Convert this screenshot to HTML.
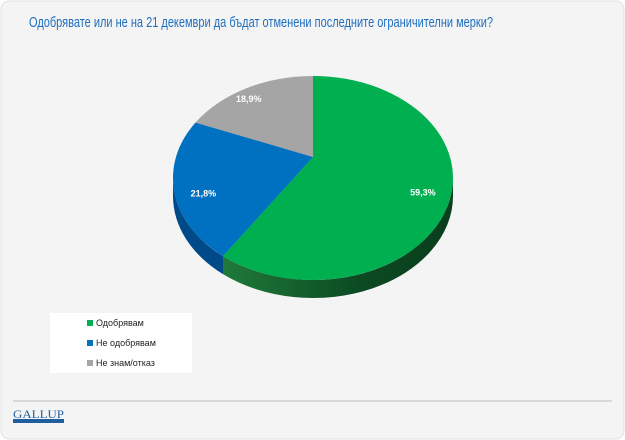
<!DOCTYPE html>
<html><head><meta charset="utf-8"><style>
body{margin:0;width:625px;height:440px;background:#fff;overflow:hidden}
svg{display:block;font-family:"Liberation Sans",sans-serif}
</style></head><body>
<svg width="625" height="440">
<defs>
<linearGradient id="gside" x1="0" x2="1"><stop offset="0" stop-color="#1f7a3a"/><stop offset="0.6" stop-color="#0b4a22"/><stop offset="1" stop-color="#0a3d1c"/></linearGradient>
<radialGradient id="shadow" cx="0.5" cy="0.5" r="0.5"><stop offset="0.7" stop-color="#bbb"/><stop offset="1" stop-color="#f4f4f4" stop-opacity="0"/></radialGradient>
</defs>
<rect x="1" y="1" width="623" height="438" rx="8" fill="#f4f4f4" stroke="#e2e2e2"/>
<text x="261" y="27" font-size="15" fill="#1f6fbf" text-anchor="middle" textLength="464" lengthAdjust="spacingAndGlyphs">Одобрявате или не на 21 декември да бъдат отменени последните ограничителни мерки?</text>
<ellipse cx="313" cy="190" rx="146" ry="112" fill="url(#shadow)"/>
<g id="pie"></g>
<rect x="50" y="313" width="142" height="60" fill="#fff"/>
<g><rect x="87" y="320" width="6" height="6" fill="#00b050"/><text x="96" y="326" font-size="9" fill="#222">Одобрявам</text></g>
<g><rect x="87" y="340" width="6" height="6" fill="#0070c0"/><text x="96" y="346" font-size="9" fill="#222">Не одобрявам</text></g>
<g><rect x="87" y="360" width="6" height="6" fill="#a5a5a5"/><text x="96" y="366" font-size="9" fill="#222">Не знам/отказ</text></g>
<line x1="13" y1="401" x2="612" y2="401" stroke="#d8d8d8" stroke-width="2"/>
<g>
<text x="13" y="418" font-size="12" font-family="Liberation Serif,serif" fill="#1f5f9f" textLength="51" lengthAdjust="spacingAndGlyphs">GALLUP</text>
<rect x="13" y="419" width="51" height="4" fill="#1f5f9f"/>
</g>
</svg>
<script>
const categories=["Одобрявам","Не одобрявам","Не знам/отказ"];
const values=[59.3,21.8,18.9];
const labels=["59,3%","21,8%","18,9%"];
const colors=["#00b050","#0070c0","#a5a5a5"];
const sideColors=["url(#gside)","#004a8a","#777"];
const ns="http://www.w3.org/2000/svg";
const cx=313,cy=178,rx=140,ry=102,vy=157,depth=18;
const g=document.getElementById("pie");
const total=values.reduce((a,b)=>a+b,0);
// ray from vertex in direction (sin a, -cos a * ry/rx) intersect ellipse
function hit(a){
  const dx=Math.sin(a),dy=-Math.cos(a)*ry/rx;
  const oy=vy-cy;
  const A=dx*dx/(rx*rx)+dy*dy/(ry*ry),B=2*oy*dy/(ry*ry),C=oy*oy/(ry*ry)-1;
  const t=(-B+Math.sqrt(B*B-4*A*C))/(2*A);
  return [cx+dx*t,vy+dy*t];
}
function pt(a,dy){return [cx+rx*Math.sin(a),cy-ry*Math.cos(a)+(dy||0)];}
let a0=0;
const angs=values.map(v=>{const s=a0;a0+=v/total*2*Math.PI;return [s,a0];});
function param(p){return Math.atan2(p[0]-cx,-(p[1]-cy)*rx/ry);}
angs.forEach(([s,e],i)=>{
  let ps=param(hit(s)),pe=param(hit(e));
  if(ps<0)ps+=2*Math.PI; if(pe<=0)pe+=2*Math.PI; if(i===0&&s===0)ps=0;
  const s2=Math.max(ps,Math.PI/2),e2=Math.min(pe,3*Math.PI/2);
  if(e2<=s2)return;
  const p1=pt(s2),p2=pt(e2),p3=pt(e2,depth),p4=pt(s2,depth);
  const path=document.createElementNS(ns,"path");
  path.setAttribute("d",`M${p1}A${rx},${ry} 0 0 1 ${p2}L${p3}A${rx},${ry} 0 0 0 ${p4}Z`);
  path.setAttribute("fill",sideColors[i]);
  
  
  g.appendChild(path);
});
angs.forEach(([s,e],i)=>{
  const p1=hit(s),p2=hit(e);
  const large=(e-s)>Math.PI?1:0;
  const path=document.createElementNS(ns,"path");
  path.setAttribute("d",`M${cx},${vy}L${p1}A${rx},${ry} 0 ${large} 1 ${p2}Z`);
  path.setAttribute("fill",colors[i]);
  
  
  g.appendChild(path);
  const m=(s+e)/2;
  const t=document.createElementNS(ns,"text");
  t.setAttribute("x",cx+rx*0.82*Math.sin(m));
  t.setAttribute("y",vy+(cy-vy)*0.5-ry*0.82*Math.cos(m)+4);
  t.setAttribute("text-anchor","middle");
  t.setAttribute("font-size","9");
  t.setAttribute("font-weight","bold");
  t.setAttribute("fill","#fff");
  t.textContent=labels[i];
  
  
  g.appendChild(t);
});
</script>
</body></html>
